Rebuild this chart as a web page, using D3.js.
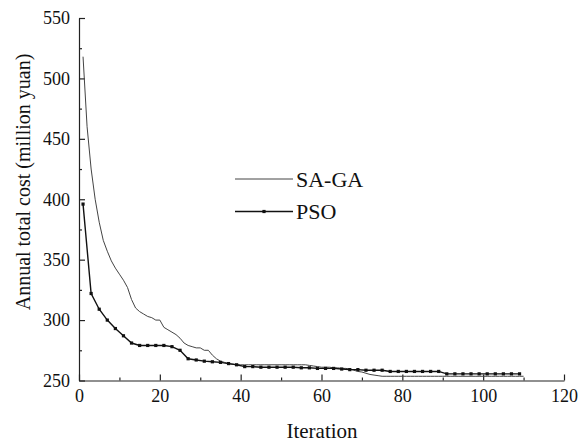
<!DOCTYPE html>
<html>
  <head>
    <meta charset="utf-8">
    <script src="https://d3js.org/d3.v7.min.js"></script>
    <style>
      body { margin: 0; background: #fff; }
      svg text { font-family: "Times New Roman", Times, "Liberation Serif", "DejaVu Serif", serif !important; fill: #111; }
    </style>
  </head>
  <body>
    <svg id="chart" width="581" height="445"></svg>
    <script>

      // SA-GA: every iteration 1..110
      let sagaIter = d3.range(1, 111);
      let sagaCost = [
        518, 460, 425, 400, 381, 366, 357, 349, 343, 338,
        333, 327, 317, 310, 307, 305, 303, 302, 300, 300,
        294, 292, 290, 288, 285, 281, 279, 278, 277, 277,
        275, 275, 271, 268, 266, 265, 264, 263.5, 263, 263,
        263, 263, 263, 263, 263, 263, 263, 263, 263, 263,
        263, 263, 263, 263, 263, 263, 262.5, 262, 261.5, 261,
        261, 261, 260.5, 260.5, 260, 260, 259.5, 258.5, 257.5, 257,
        256, 255, 254.5, 254, 253.5, 253.5, 253.5, 253.5, 253.5, 253.5,
        253.5, 253.5, 253.5, 253.5, 253.5, 253.5, 253.5, 253.5, 253.5, 253.5,
        253.5, 253.5, 253.5, 253.5, 253.5, 253.5, 253.5, 253.5, 253.5, 253.5,
        253.5, 253.5, 253.5, 253.5, 253.5, 253.5, 253.5, 253.5, 253.5, 253.5
      ];

      // PSO: odd iterations 1..109
      let psoIter = d3.range(1, 110, 2);
      let psoCost = [
        396, 322, 309, 300, 293, 287, 281, 279, 279, 279,
        279, 278, 275, 268, 267, 266, 265.5, 265, 264, 263,
        261.5, 261.5, 261, 261, 261, 261, 261, 260.5, 260.5, 260,
        260, 260, 259.5, 259, 259, 258.5, 258.5, 258.5, 257.5, 257.5,
        257.5, 257.5, 257.5, 257.5, 257.5, 255.5, 255.5, 255.5, 255.5, 255.5,
        255.5, 255.5, 255.5, 255.5, 255.5
      ];

      let xTicks = [0, 20, 40, 60, 80, 100, 120];
      let yTicks = [250, 300, 350, 400, 450, 500, 550];
      let seriesNames = ['SA-GA', 'PSO'];

      let svg = d3.select('#chart');

      let x = d3.scaleLinear().domain([0, 120]).range([79, 564]);
      let y = d3.scaleLinear().domain([250, 550]).range([380.5, 18]);

      // minor ticks first
      svg.append('g')
        .attr('transform', 'translate(0,380.5)')
        .call(d3.axisBottom(x).tickValues(d3.range(10, 120, 20)).tickSize(-3).tickFormat(''))
        .call(g => g.select('.domain').remove());
      svg.append('g')
        .attr('transform', 'translate(79,0)')
        .call(d3.axisLeft(y).tickValues(d3.range(275, 550, 50)).tickSize(-3).tickFormat(''))
        .call(g => g.select('.domain').remove());

      let xAxis = svg.append('g')
        .attr('transform', 'translate(0,380.5)')
        .call(d3.axisBottom(x).tickValues(xTicks).tickSize(-6).tickSizeOuter(0).tickPadding(9));
      xAxis.attr('font-family', null);
      xAxis.selectAll('text').attr('font-size', 18);

      let yAxis = svg.append('g')
        .attr('transform', 'translate(79,0)')
        .call(d3.axisLeft(y).tickValues(yTicks).tickSize(-6).tickSizeOuter(0).tickPadding(9));
      yAxis.attr('font-family', null);
      yAxis.selectAll('text').attr('font-size', 18);

      svg.selectAll('.domain, .tick line').attr('stroke', '#222').attr('stroke-width', 1.2);

      let line = d3.line()
        .x(d => x(d[0]))
        .y(d => y(d[1]));

      let sagaData = sagaIter.map((d, i) => [d, sagaCost[i]]);
      let psoData = psoIter.map((d, i) => [d, psoCost[i]]);

      svg.append('path')
        .datum(sagaData)
        .attr('fill', 'none')
        .attr('stroke', '#444')
        .attr('stroke-width', 1)
        .attr('d', line);

      svg.append('path')
        .datum(psoData)
        .attr('fill', 'none')
        .attr('stroke', '#111')
        .attr('stroke-width', 1.4)
        .attr('d', line);

      svg.selectAll('.pso-mark')
        .data(psoData)
        .enter().append('rect')
        .attr('class', 'pso-mark')
        .attr('x', d => x(d[0]) - 1.6)
        .attr('y', d => y(d[1]) - 1.6)
        .attr('width', 3.2)
        .attr('height', 3.2)
        .attr('fill', '#111');

      // legend
      let legend = svg.append('g').attr('transform', 'translate(235,179)');
      seriesNames.forEach((name, i) => {
        let g = legend.append('g').attr('transform', 'translate(0,' + (i * 32.5) + ')');
        g.append('line')
          .attr('x1', 0).attr('x2', 58)
          .attr('stroke', i == 0 ? '#444' : '#111')
          .attr('stroke-width', i == 0 ? 1 : 1.4);
        if (i == 1) {
          g.append('rect').attr('x', 29 - 1.6).attr('y', -1.6)
            .attr('width', 3.2).attr('height', 3.2).attr('fill', '#111');
        }
        g.append('text')
          .attr('x', 61)
          .attr('dy', '0.35em')
          .attr('font-size', 22)
          .text(name);
      });

      svg.append('text')
        .attr('x', 322)
        .attr('y', 438)
        .attr('text-anchor', 'middle')
        .attr('font-size', 21)
        .text('Iteration');

      svg.append('text')
        .attr('transform', 'translate(30,182) rotate(-90)')
        .attr('text-anchor', 'middle')
        .attr('font-size', 20)
        .text('Annual total cost (million yuan)');
    </script>
  </body>
</html>
